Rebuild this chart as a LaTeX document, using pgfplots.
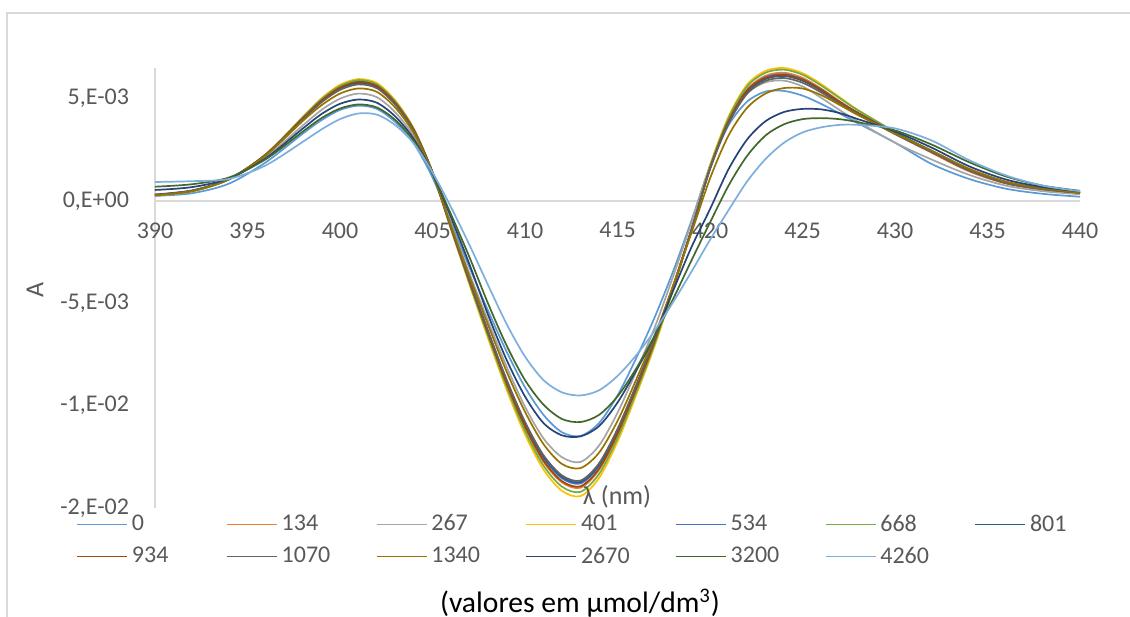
\documentclass[border=0pt]{standalone}
\usepackage{fontspec}
\setmainfont{Carlito}
\usepackage{pgfplots}
\usepackage{pgfplotstable}
\pgfplotsset{compat=1.18}
\definecolor{c0}{HTML}{5B9BD5}
\definecolor{c134}{HTML}{ED7D31}
\definecolor{c267}{HTML}{A5A5A5}
\definecolor{c401}{HTML}{FFC000}
\definecolor{c534}{HTML}{4472C4}
\definecolor{c668}{HTML}{70AD47}
\definecolor{c801}{HTML}{255E91}
\definecolor{c934}{HTML}{9E480E}
\definecolor{c1070}{HTML}{636363}
\definecolor{c1340}{HTML}{997300}
\definecolor{c2670}{HTML}{264478}
\definecolor{c3200}{HTML}{43682B}
\definecolor{c4260}{HTML}{7CAFDD}
\definecolor{labelgray}{HTML}{595959}
\definecolor{axisgray}{HTML}{D9D9D9}
% absorbance values in units of 1E-03
\pgfplotstableread{
l s0 s134 s267 s401 s534 s668 s801 s934 s1070 s1340 s2670 s3200 s4260
390 0.25 0.28 0.27 0.28 0.30 0.27 0.32 0.30 0.30 0.28 0.54 0.70 0.93
392 0.38 0.49 0.47 0.48 0.50 0.48 0.52 0.50 0.50 0.48 0.68 0.82 0.97
394 0.85 1.07 1.05 1.06 1.07 1.06 1.08 1.07 1.07 1.06 1.10 1.15 1.08
396 1.90 2.29 2.15 2.30 2.28 2.29 2.27 2.28 2.26 2.24 2.10 2.05 1.75
398 3.30 4.07 3.70 4.12 4.05 4.10 4.02 4.05 3.99 3.92 3.55 3.40 2.90
399 3.95 4.94 4.45 5.02 4.91 4.98 4.87 4.91 4.82 4.68 4.25 4.05 3.50
400 4.45 5.57 5.00 5.68 5.54 5.62 5.49 5.54 5.43 5.25 4.75 4.52 4.00
401 4.66 5.85 5.25 5.96 5.82 5.91 5.76 5.82 5.70 5.50 4.96 4.72 4.28
402 4.50 5.65 5.07 5.76 5.62 5.70 5.57 5.62 5.51 5.33 4.80 4.57 4.22
403 3.85 4.80 4.32 4.90 4.78 4.85 4.74 4.78 4.69 4.55 4.12 3.95 3.70
404 2.80 3.47 3.15 3.52 3.45 3.50 3.43 3.45 3.39 3.30 3.02 2.92 2.80
405 1.15 1.40 1.35 1.40 1.40 1.40 1.40 1.40 1.40 1.38 1.35 1.35 1.40
406 -1.05 -1.32 -1.15 -1.38 -1.30 -1.34 -1.29 -1.31 -1.29 -1.20 -0.80 -0.65 -0.30
407 -3.25 -3.96 -3.55 -4.08 -3.90 -4.02 -3.88 -3.94 -3.86 -3.68 -3.10 -2.75 -2.15
408 -5.35 -6.50 -5.85 -6.70 -6.40 -6.59 -6.37 -6.46 -6.34 -6.05 -5.55 -5.00 -4.10
409 -7.35 -8.93 -8.08 -9.20 -8.80 -9.06 -8.76 -8.89 -8.71 -8.32 -7.75 -7.05 -6.00
410 -9.10 -11.06 -10.05 -11.40 -10.90 -11.23 -10.85 -11.01 -10.79 -10.30 -9.55 -8.75 -7.60
411 -10.45 -12.74 -11.60 -13.12 -12.55 -12.93 -12.49 -12.68 -12.42 -11.88 -10.85 -9.95 -8.75
412 -11.30 -13.75 -12.52 -14.16 -13.55 -13.96 -13.48 -13.69 -13.41 -12.85 -11.45 -10.65 -9.35
413 -11.48 -14.01 -12.75 -14.42 -13.80 -14.21 -13.73 -13.94 -13.66 -13.05 -11.50 -10.80 -9.50
414 -10.85 -13.14 -11.95 -13.54 -12.95 -13.34 -12.89 -13.08 -12.82 -12.30 -11.00 -10.45 -9.25
415 -9.50 -11.42 -10.35 -11.76 -11.25 -11.59 -11.19 -11.36 -11.14 -10.75 -9.85 -9.55 -8.55
416 -7.70 -9.24 -8.35 -9.50 -9.10 -9.37 -9.05 -9.19 -9.01 -8.75 -8.30 -8.20 -7.55
417 -5.70 -6.90 -6.20 -7.10 -6.80 -7.00 -6.77 -6.87 -6.73 -6.60 -6.60 -6.60 -6.35
418 -3.45 -4.25 -3.70 -4.35 -4.20 -4.30 -4.18 -4.24 -4.16 -4.15 -4.40 -4.80 -4.95
419 -0.95 -1.40 -1.05 -1.40 -1.40 -1.42 -1.40 -1.41 -1.40 -1.55 -2.25 -2.90 -3.45
420 1.70 1.62 1.75 1.72 1.60 1.68 1.57 1.60 1.55 1.10 -0.40 -1.05 -1.90
421 3.70 3.94 3.95 4.12 3.90 4.05 3.84 3.90 3.78 3.20 1.55 0.75 -0.45
422 4.85 5.46 5.25 5.68 5.40 5.60 5.32 5.40 5.24 4.55 3.00 2.20 0.95
423 5.35 6.12 5.80 6.36 6.05 6.27 5.96 6.02 5.87 5.25 3.90 3.20 2.05
424 5.38 6.27 5.88 6.50 6.20 6.42 6.11 6.16 6.01 5.52 4.35 3.75 2.85
425 5.15 6.02 5.60 6.25 5.95 6.17 5.88 5.93 5.78 5.50 4.50 4.00 3.35
426 4.75 5.50 5.05 5.72 5.45 5.65 5.40 5.45 5.31 5.18 4.48 4.05 3.60
427 4.28 4.88 4.45 5.08 4.85 5.03 4.83 4.85 4.75 4.70 4.30 4.00 3.72
428 3.80 4.30 3.88 4.45 4.30 4.43 4.30 4.30 4.23 4.20 4.00 3.85 3.72
430 2.85 3.28 2.85 3.38 3.30 3.38 3.33 3.30 3.27 3.30 3.40 3.45 3.55
432 1.80 2.35 2.02 2.42 2.40 2.43 2.45 2.40 2.38 2.45 2.60 2.75 2.95
434 1.08 1.45 1.28 1.50 1.50 1.52 1.56 1.50 1.50 1.58 1.70 1.90 2.00
436 0.60 0.85 0.75 0.88 0.88 0.90 0.93 0.88 0.88 0.95 1.05 1.20 1.25
438 0.35 0.55 0.48 0.57 0.58 0.58 0.62 0.58 0.58 0.62 0.68 0.75 0.75
440 0.21 0.38 0.33 0.38 0.40 0.40 0.43 0.40 0.40 0.42 0.47 0.50 0.48
}\data

\newcommand{\lbl}[1]{\makebox[45bp][l]{#1}}

\begin{document}
\begin{tikzpicture}
\useasboundingbox (-77.5bp,-54.5bp) rectangle (487.5bp,254bp);
\draw[axisgray, line width=1bp] (-73.85bp,-80bp) -- (-73.85bp,247.65bp) -- (560bp,247.65bp);
\begin{axis}[
  at={(0,0)}, anchor=south west,
  width=462.5bp, height=220bp, scale only axis,
  xmin=390, xmax=440, ymin=-15, ymax=6.5,
  axis x line*=middle, axis y line*=left,
  axis line style={draw=axisgray, line width=0.75bp},
  xtick={390,395,...,440},
  ytick={-15,-10,-5,0,5},
  yticklabels={{-2,E-02},{-1,E-02},{-5,E-03},{0,E+00},{5,E-03}},
  major tick length=0pt,
  hide obscured x ticks=false, hide obscured y ticks=false,
  /pgf/number format/assume math mode=true,
  ticklabel style={font=\fontsize{12bp}{14bp}\selectfont, text=labelgray},
  xticklabel style={yshift=-7.2bp},
  yticklabel style={xshift=-9.5bp},
  xlabel={λ (nm)},
  xlabel style={at={(axis description cs:0.4995,0.025)}, anchor=center, font=\fontsize{13bp}{15bp}\selectfont, text=labelgray},
  ylabel={A},
  ylabel style={at={(axis description cs:-0.1297,0.495)}, anchor=center, font=\fontsize{13bp}{15bp}\selectfont, text=labelgray},
  legend columns=7,
  legend cell align=left,
  legend style={at={(axis description cs:-0.0855,-0.0735)}, anchor=west, draw=none, fill=none, inner sep=0pt, row sep=2.4bp, column sep=0pt, font=\fontsize{12bp}{14bp}\selectfont, text=labelgray},
  legend image code/.code={\draw[#1] (0bp,0bp) -- (25bp,0bp);},
  every axis plot/.append style={line width=0.85bp, smooth, no markers},
]
\addplot[c0] table[x=l,y=s0]{\data}; \addlegendentry{\lbl{0}}
\addplot[c134] table[x=l,y=s134]{\data}; \addlegendentry{\lbl{134}}
\addplot[c267] table[x=l,y=s267]{\data}; \addlegendentry{\lbl{267}}
\addplot[c401] table[x=l,y=s401]{\data}; \addlegendentry{\lbl{401}}
\addplot[c534] table[x=l,y=s534]{\data}; \addlegendentry{\lbl{534}}
\addplot[c668] table[x=l,y=s668]{\data}; \addlegendentry{\lbl{668}}
\addplot[c801] table[x=l,y=s801]{\data}; \addlegendentry{\lbl{801}}
\addplot[c934] table[x=l,y=s934]{\data}; \addlegendentry{\lbl{934}}
\addplot[c1070] table[x=l,y=s1070]{\data}; \addlegendentry{\lbl{1070}}
\addplot[c1340] table[x=l,y=s1340]{\data}; \addlegendentry{\lbl{1340}}
\addplot[c2670] table[x=l,y=s2670]{\data}; \addlegendentry{\lbl{2670}}
\addplot[c3200] table[x=l,y=s3200]{\data}; \addlegendentry{\lbl{3200}}
\addplot[c4260] table[x=l,y=s4260]{\data}; \addlegendentry{\lbl{4260}}
\end{axis}
\node[font=\fontsize{14.8bp}{17bp}\selectfont, text=black] at (212.5bp,-47.5bp) {(valores em µmol/dm\textsuperscript{3})};
\end{tikzpicture}
\end{document}
